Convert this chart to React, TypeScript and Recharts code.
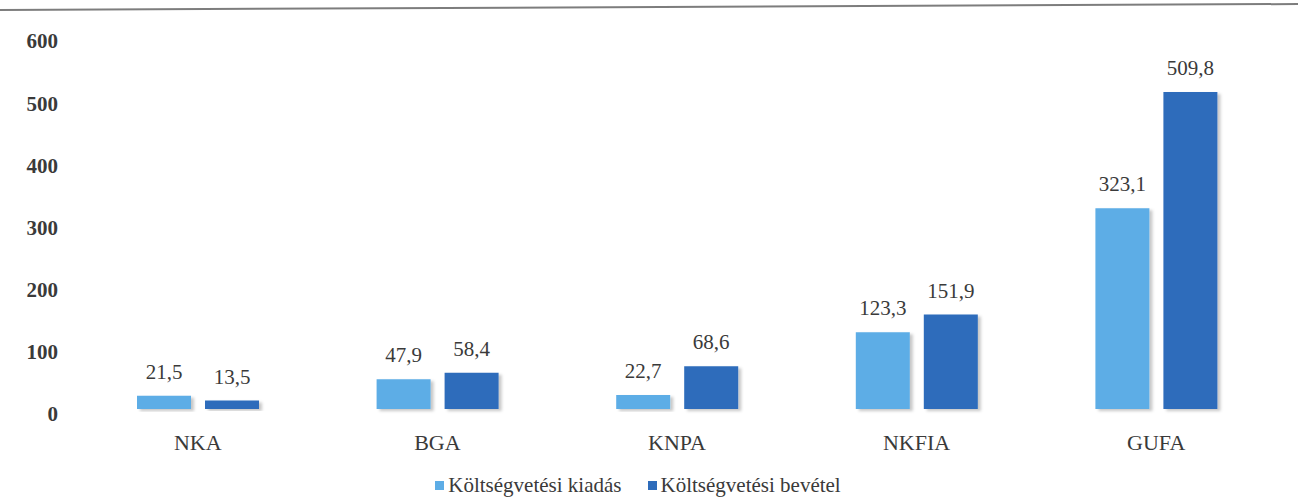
import * as React from "react";
import { Bar, BarChart, LabelList, Legend, XAxis, YAxis } from "recharts";

const categories = ["NKA", "BGA", "KNPA", "NKFIA", "GUFA"];
const kiadas = [21.5, 47.9, 22.7, 123.3, 323.1];
const bevetel = [13.5, 58.4, 68.6, 151.9, 509.8];
const yTicks = [0, 100, 200, 300, 400, 500, 600];
const seriesNames = ["Költségvetési kiadás", "Költségvetési bevétel"];

const data = categories.map((name, i) => ({
  name,
  kiadas: kiadas[i],
  bevetel: bevetel[i],
}));

const LIGHT = "#5dade6";
const DARK = "#2e6cbb";
const FONT = "'Liberation Serif', 'DejaVu Serif', serif";
const TEXT = "#3a3a3a";

const fmt = (v: unknown) => String(v).replace(".", ",");

// legend drawn in a fixed order (light first), like the original
function renderLegend() {
  const colors = [LIGHT, DARK];
  return (
    <div
      style={{
        display: "flex",
        justifyContent: "center",
        gap: 26,
        fontFamily: FONT,
        fontSize: 21,
        color: TEXT,
      }}
    >
      {seriesNames.map((n, i) => (
        <span key={n} style={{ display: "inline-flex", alignItems: "center" }}>
          <span
            style={{
              display: "inline-block",
              width: 9,
              height: 9,
              background: colors[i],
              marginRight: 4,
            }}
          />
          {n}
        </span>
      ))}
    </div>
  );
}

export default function App() {
  return (
    <div
      style={{
        position: "absolute",
        left: 0,
        top: 0,
        width: 1298,
        height: 503,
        background: "#fff",
        fontFamily: FONT,
      }}
    >
      {/* scanned page rule above the chart */}
      <svg width={1298} height={14} style={{ position: "absolute", left: 0, top: 0 }}>
        <line x1={0} y1={10} x2={1298} y2={4} stroke="#7d7d7d" strokeWidth={2} />
      </svg>
      <BarChart
        width={1298}
        height={503}
        data={data}
        margin={{ top: 36, right: 22, bottom: 0, left: 0 }}
        barSize={54}
        barGap={14}
      >
        <defs>
          <filter id="barShadow" x="-20%" y="-10%" width="150%" height="130%">
            <feDropShadow dx="3" dy="2" stdDeviation="1.5" floodColor="#000" floodOpacity="0.22" />
          </filter>
        </defs>
        <XAxis
          dataKey="name"
          axisLine={false}
          tickLine={false}
          tickMargin={19}
          height={64}
          tick={{ fontFamily: FONT, fontSize: 22, fill: TEXT }}
        />
        <YAxis
          domain={[0, 600]}
          ticks={yTicks}
          axisLine={false}
          tickLine={false}
          tickSize={0}
          tickMargin={20}
          width={78}
          tick={{ fontFamily: FONT, fontSize: 21, fontWeight: 700, fill: TEXT, dy: 5 }}
        />
        <Legend verticalAlign="bottom" height={30} content={renderLegend} />
        <Bar
          dataKey="kiadas"
          name={seriesNames[0]}
          fill={LIGHT}
          filter="url(#barShadow)"
          isAnimationActive={false}
        >
          <LabelList
            dataKey="kiadas"
            position="top"
            offset={17}
            formatter={fmt}
            fontFamily={FONT}
            fontSize={21}
            fill={TEXT}
          />
        </Bar>
        <Bar
          dataKey="bevetel"
          name={seriesNames[1]}
          fill={DARK}
          filter="url(#barShadow)"
          isAnimationActive={false}
        >
          <LabelList
            dataKey="bevetel"
            position="top"
            offset={17}
            formatter={fmt}
            fontFamily={FONT}
            fontSize={21}
            fill={TEXT}
          />
        </Bar>
      </BarChart>
    </div>
  );
}
